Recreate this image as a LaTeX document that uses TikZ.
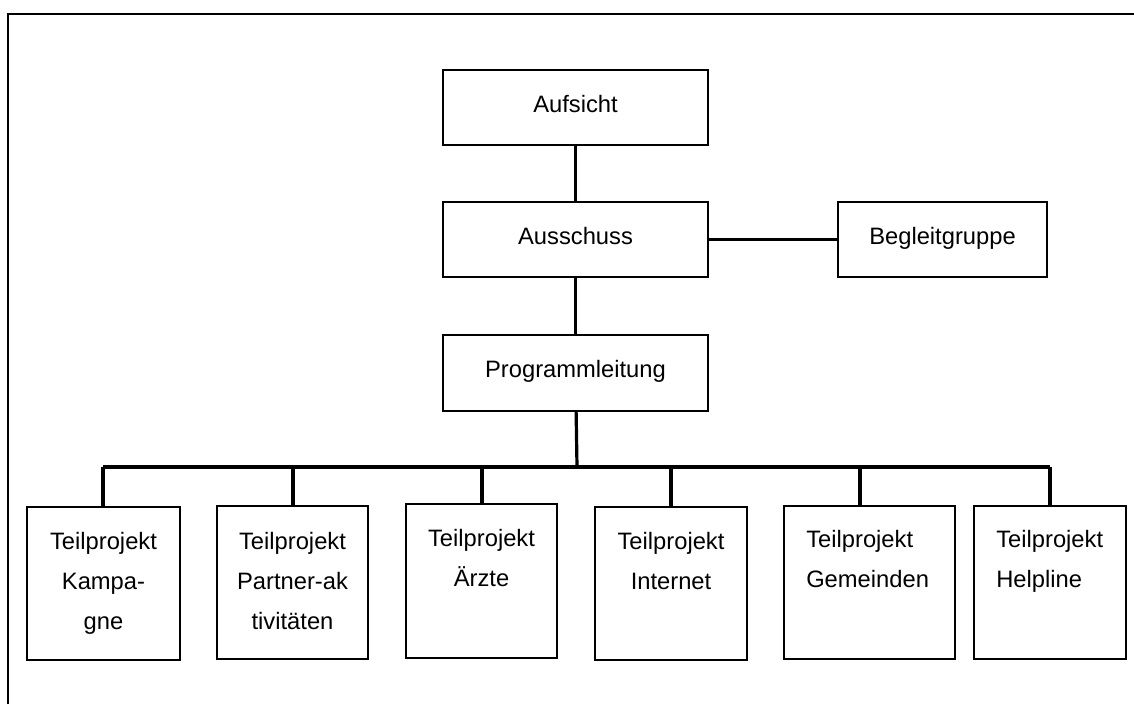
\documentclass[tikz,border=0pt]{standalone}
\usepackage{fontspec}
\setmainfont{Liberation Sans}
\begin{document}
\begin{tikzpicture}[x=0.75pt,y=-0.75pt,
  box/.style={draw,line width=1.2pt,inner sep=0pt,text height=12.7pt,text depth=5.9pt,font=\fontsize{17.8}{30}\selectfont},
  txt/.style={inner sep=0pt,anchor=north,align=center,font=\fontsize{17.8}{30}\selectfont},
  ltxt/.style={inner sep=0pt,anchor=north west,align=left,font=\fontsize{17.8}{30}\selectfont},
  conn/.style={line width=2.4pt},
  frame/.style={line width=1.6pt}]
\useasboundingbox (0,0) rectangle (1134,704);
% outer frame (open on right and bottom)
\coordinate (fb) at (8,704);
\coordinate (fc) at (8,14);
\coordinate (fr) at (1134,14);
\draw[frame] (fb) -- (fc) -- (fr);
% top boxes
\node[box,minimum width=198.75pt,minimum height=56.25pt] (aufsicht) at (575.5,107.5) {Aufsicht};
\node[box,minimum width=198.75pt,minimum height=56.25pt] (ausschuss) at (575.5,239.5) {Ausschuss};
\node[box,minimum width=198.75pt,minimum height=57pt] (prog) at (575.5,373) {Programmleitung};
\node[box,minimum width=156.75pt,minimum height=56.25pt] (begleit) at (942.5,239.5) {Begleitgruppe};
\draw[conn] (aufsicht) -- (ausschuss);
\draw[conn] (ausschuss) -- (prog);
\draw[conn] (ausschuss) -- (begleit);
% bus
\coordinate (bL) at (103,467);
\coordinate (bR) at (1050,467);
\coordinate (bP) at (577,467);
\draw[conn] (bL) -- (bR);
\draw[conn] (prog) -- (bP);
% bottom boxes
\node[box,minimum width=114.75pt,minimum height=114.75pt] (t1) at (103.5,583.5) {};
\node[box,minimum width=113.25pt,minimum height=114.75pt] (t2) at (292.5,582.5) {};
\node[box,minimum width=113.25pt,minimum height=115.5pt] (t3) at (481.5,581) {};
\node[box,minimum width=114pt,minimum height=114.75pt] (t4) at (671,583.5) {};
\node[box,minimum width=128.25pt,minimum height=114.75pt] (t5) at (869.5,582.5) {};
\node[box,minimum width=114pt,minimum height=114.75pt] (t6) at (1050,582.5) {};
% drops
\coordinate (d1) at (103,467);
\coordinate (d2) at (293,467);
\coordinate (d3) at (482,467);
\coordinate (d4) at (671,467);
\coordinate (d5) at (860,467);
\coordinate (d6) at (1050,467);
\draw[conn] (d1) -- (d1 |- t1.north);
\draw[conn] (d2) -- (d2 |- t2.north);
\draw[conn] (d3) -- (d3 |- t3.north);
\draw[conn] (d4) -- (d4 |- t4.north);
\draw[conn] (d5) -- (d5 |- t5.north);
\draw[conn] (d6) -- (d6 |- t6.north);
% texts
\node[txt] (x1) at (103.5,532) {Teilprojekt\\Kampa-\\gne};
\node[txt] (x2) at (292.5,532) {Teilprojekt\\Partner-ak\\tivitäten};
\node[txt] (x3) at (481.5,529) {Teilprojekt\\Ärzte};
\node[txt] (x4) at (671,532) {Teilprojekt\\Internet};
\node[ltxt] (x5) at (806,530) {Teilprojekt\\Gemeinden};
\node[ltxt] (x6) at (996,530) {Teilprojekt\\Helpline};
\end{tikzpicture}
\end{document}
